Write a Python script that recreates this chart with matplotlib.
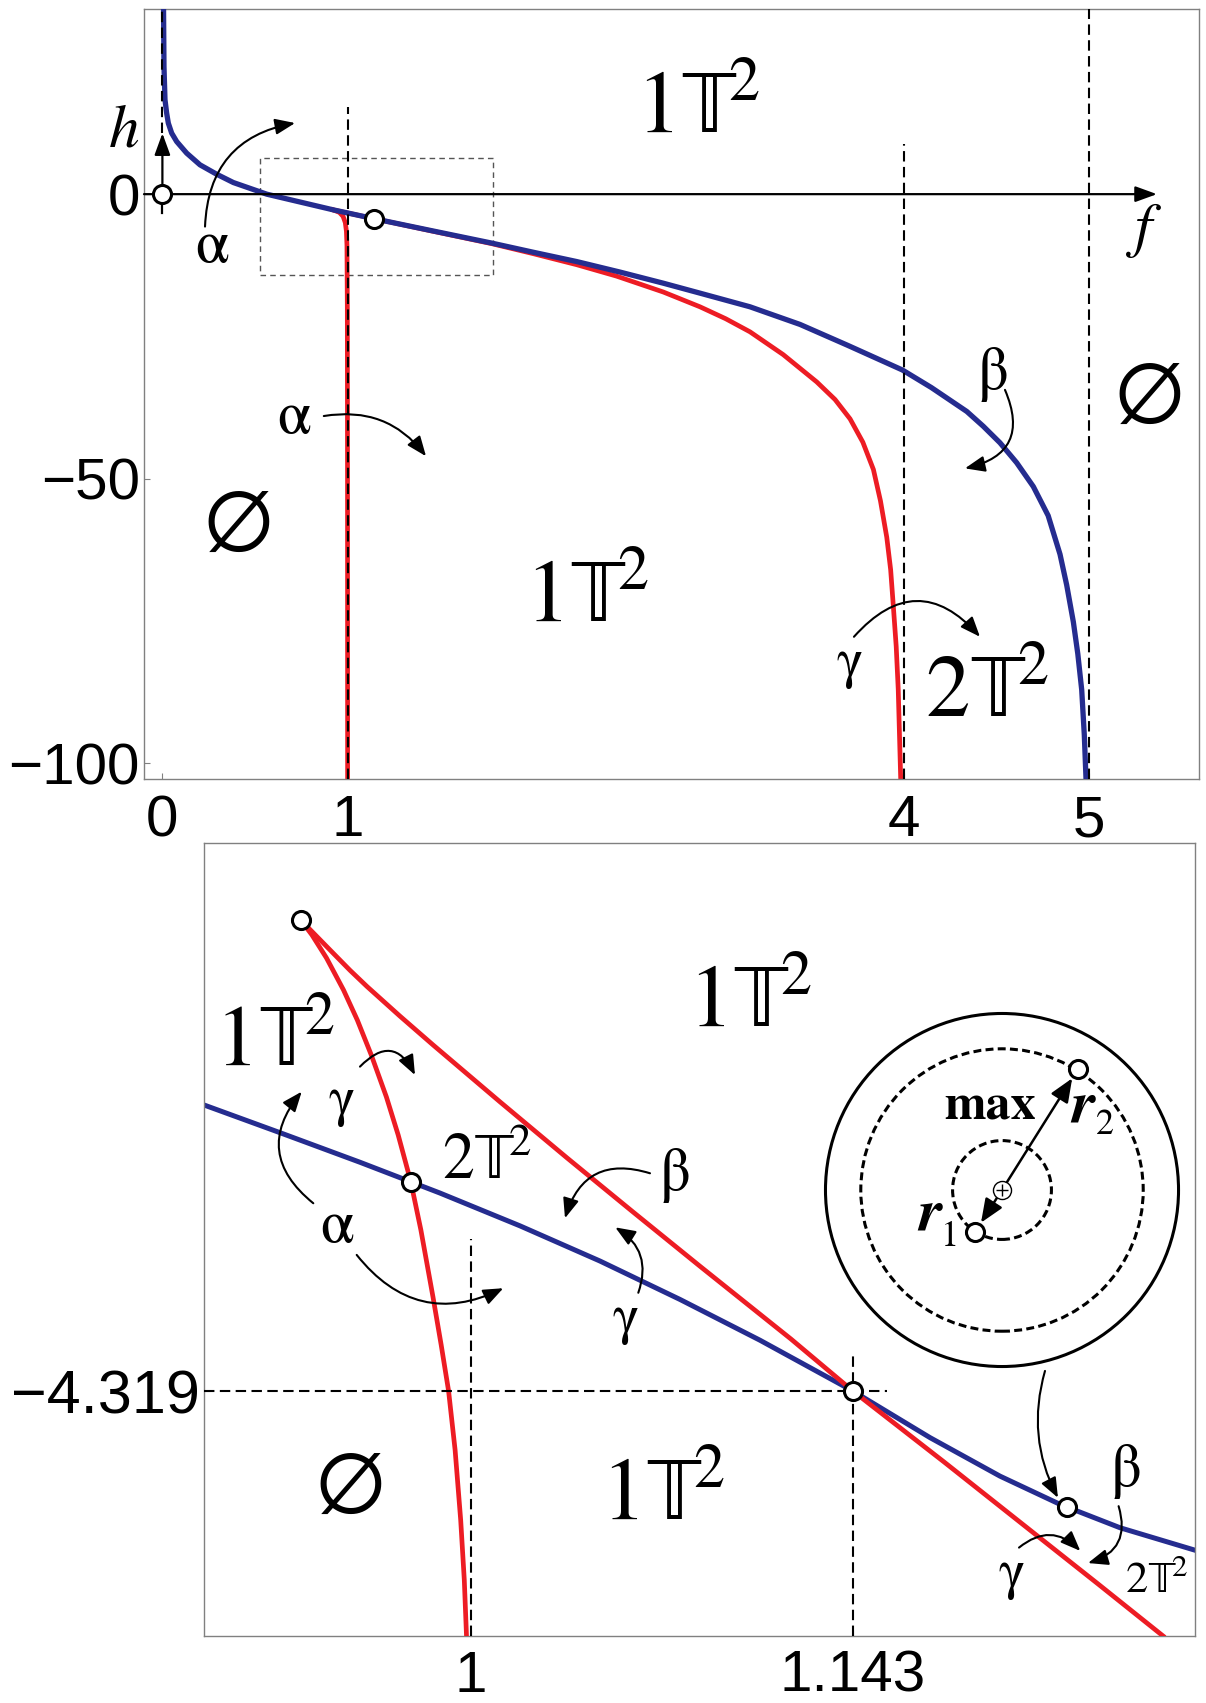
"""Bifurcation diagram h(f): overview (top) and enlarged view near f = 1.143 (bottom)."""

import matplotlib

matplotlib.use("Agg")

import matplotlib.pyplot as plt
from matplotlib.patches import Circle, Rectangle

plt.rcParams["mathtext.fontset"] = "stix"

SERIF = "STIXGeneral"
SANS = ["Liberation Sans", "DejaVu Sans"]
BLUE = "#252c8f"
RED = "#ed1c24"
FRAME = "#808080"
DASH = (0, (5, 2.6))

# ---------------------------------------------------------------------------
# Overview panel data (f, h)
# ---------------------------------------------------------------------------
beta_f = [0.006, 0.0086, 0.014, 0.023, 0.032, 0.050, 0.077, 0.131, 0.203, 0.293,
          0.383, 0.563, 0.922, 1.143, 1.45, 1.777, 2.0, 2.236, 2.47, 2.703,
          2.901, 3.171, 3.441, 3.70, 3.993, 4.15, 4.341, 4.43, 4.520, 4.61,
          4.700, 4.78, 4.844, 4.88, 4.916, 4.94, 4.961, 4.975, 4.984]
beta_h = [33.3, 22.4, 16.6, 14.24, 12.48, 10.73, 9.25, 7.21, 5.15, 3.5,
          2.04, 0.0, -2.76, -4.319, -6.4, -8.6, -10.2, -11.85, -13.7, -15.65,
          -17.4, -19.8, -22.9, -26.6, -30.9, -34.0, -38.2, -40.8, -43.7, -47.2,
          -51.4, -56.5, -63.3, -68.7, -75.2, -80.8, -87.1, -95.0, -102.5]

# red branch running down along f = 1
red_left_f = [0.921, 0.955, 0.975, 0.987, 0.993, 0.996, 0.998, 0.999, 0.9995]
red_left_h = [-2.76, -3.2, -3.9, -5.0, -6.5, -9.0, -20.0, -50.0, -103.0]

# red branch running down along f = 4
red_right_f = [0.921, 1.143, 1.45, 1.777, 2.0, 2.236, 2.45, 2.703, 2.901, 3.04,
               3.171, 3.35, 3.531, 3.63, 3.711, 3.78, 3.837, 3.875, 3.909, 3.93,
               3.944, 3.96, 3.971, 3.984]
red_right_h = [-2.76, -4.319, -6.45, -8.7, -10.45, -12.4, -14.4, -17.2, -19.8, -21.9,
               -24.2, -28.2, -33.0, -36.1, -39.5, -43.6, -48.4, -53.9, -60.3, -66.0,
               -72.2, -79.5, -87.1, -102.5]

f_ticks = [0, 1, 4, 5]
h_ticks = [0, -50, -100]
h_tick_labels = ["0", "\u221250", "\u2212100"]

f_star = 1.143
h_star = -4.319

# ---------------------------------------------------------------------------
# Enlarged panel data
# ---------------------------------------------------------------------------
zoom_beta_f = [0.90004, 0.92849, 0.95844, 0.98839, 1.01835, 1.04830, 1.07825,
               1.10820, 1.143, 1.17185, 1.19805, 1.22052, 1.24298, 1.27106]
zoom_beta_h = [-3.0562, -3.1785, -3.3091, -3.4450, -3.5898, -3.7451, -3.9146,
               -4.0946, -4.319, -4.5244, -4.6944, -4.8188, -4.9221, -5.0213]

zoom_red_a_f = [0.93624, 0.94047, 0.94590, 0.95227, 0.95743, 0.96267, 0.96833,
                0.97274, 0.97746, 0.98124, 0.98577, 0.98884, 0.99161, 0.99405,
                0.99614, 0.99749, 0.99832]
zoom_red_a_h = [-2.2398, -2.3060, -2.4075, -2.5487, -2.6811, -2.8356, -3.0209,
                -3.1886, -3.3947, -3.6079, -3.9035, -4.1153, -4.3184, -4.5787,
                -4.8876, -5.1524, -5.3996]

zoom_red_b_f = [0.93624, 0.94833, 0.95470, 0.96106, 0.97342, 0.98577, 1.01086,
                1.03594, 1.06065, 1.08574, 1.11980, 1.143, 1.17709, 1.20591,
                1.23474, 1.25908]
zoom_red_b_h = [-2.2398, -2.3854, -2.4618, -2.5333, -2.6643, -2.7910, -3.0425,
                -3.2897, -3.5284, -3.7681, -4.0893, -4.319, -4.6317, -4.9009,
                -5.1701, -5.3996]

zoom_marks_f = [0.93624, 0.9775, f_star, 1.22314]
zoom_marks_h = [-2.2398, -3.3955, h_star, -4.8307]

zoom_f_ticks = [1, f_star]
zoom_h_ticks = [h_star]


def style_frame(ax):
    for sp in ax.spines.values():
        sp.set_color(FRAME)
        sp.set_linewidth(1.0)
    ax.tick_params(direction="in", length=4, width=0.8, color=FRAME)


def label(ax, x, y, s, size, **kw):
    ax.text(x, y, s, fontsize=size, family=SERIF, ha="center", va="center", **kw)


def torus(n):
    return rf"$\mathrm{{{n}\mathbb{{T}}^2}}$"


def curved_arrow(ax, start, end, rad, lw=1.5, scale=22):
    ax.annotate("", xy=end, xytext=start,
                arrowprops=dict(arrowstyle="-|>,head_length=0.55,head_width=0.22",
                                connectionstyle=f"arc3,rad={rad}", color="black",
                                lw=lw, mutation_scale=scale, shrinkA=0, shrinkB=0),
                annotation_clip=False)


def open_marks(ax, fs, hs):
    ax.plot(fs, hs, "o", ms=13, mfc="white", mec="black", mew=2.2, zorder=8,
            clip_on=False)


fig = plt.figure(figsize=(12.06, 17.03), dpi=100)

# ---------------------------------------------------------------------------
# Overview
# ---------------------------------------------------------------------------
ax = fig.add_axes([0.1194, 0.54257, 0.87479, 0.45233])
ax.set_xlim(-0.0993, 5.594)
ax.set_ylim(-102.8, 32.6)
style_frame(ax)

ax.plot(red_left_f, red_left_h, color=RED, lw=3.4, zorder=2)
ax.plot(red_right_f, red_right_h, color=RED, lw=3.4, zorder=2)
ax.plot(beta_f, beta_h, color=BLUE, lw=3.8, zorder=3)

dash_kw = dict(colors="black", linestyles=[DASH], linewidths=1.5, zorder=4)
ax.vlines(0, 10.7, 32.6, **dash_kw)
ax.vlines(1, -102.8, 15.4, **dash_kw)
ax.vlines(4, -102.8, 8.76, **dash_kw)
ax.vlines(5, -102.8, 32.6, **dash_kw)

ax.add_patch(Rectangle((0.529, -14.19), 1.254, 20.63, fill=False,
                       edgecolor="#555555", lw=1.0, ls=(0, (4, 3)), zorder=1))

# coordinate arrows
axis_arrow = dict(arrowstyle="-|>,head_length=0.55,head_width=0.2", color="black",
                  lw=1.6, mutation_scale=24, shrinkA=0, shrinkB=0)
ax.annotate("", xy=(5.367, 0), xytext=(-0.0993, 0), arrowprops=axis_arrow,
            annotation_clip=False, zorder=5)
ax.annotate("", xy=(0, 10.7), xytext=(0, 0), arrowprops=axis_arrow, zorder=5)
ax.plot([0, 0], [0, -3.3], color="black", lw=1.6, zorder=5)
open_marks(ax, [0, f_star], [0, h_star])

ax.set_xticks(f_ticks, labels=[str(v) for v in f_ticks], fontsize=42, family=SANS)
ax.set_yticks(h_ticks, labels=h_tick_labels, fontsize=42, family=SANS)
ax.tick_params(axis="x", pad=11)
ax.tick_params(axis="y", pad=3)

ax.text(-0.207, 10.9, "h", fontsize=44, family=SERIF, style="italic",
        ha="center", va="center")
ax.text(5.292, -6.3, "f", fontsize=44, family=SERIF, style="italic",
        ha="center", va="center")

label(ax, 2.890, 14.6, torus(1), 64)
label(ax, 2.291, -71.3, torus(1), 64)
label(ax, 4.448, -88.1, torus(2), 64)
label(ax, 0.408, -58.0, "\u2205", 66)
label(ax, 5.324, -35.5, "\u2205", 66)

label(ax, 0.266, -9.5, "\u03b1", 44)
curved_arrow(ax, (0.230, -5.7), (0.716, 12.5), -0.4)
label(ax, 0.707, -39.4, "\u03b1", 44)
curved_arrow(ax, (0.871, -39.0), (1.4226, -46.07), -0.3)
label(ax, 4.480, -31.7, "\u03b2", 44)
curved_arrow(ax, (4.547, -34.4), (4.331, -48.2), -0.6)
label(ax, 3.711, -82.6, "\u03b3", 40)
curved_arrow(ax, (3.732, -77.8), (4.412, -77.8), -0.56)

# ---------------------------------------------------------------------------
# Enlarged view near the tangency point
# ---------------------------------------------------------------------------
bx = fig.add_axes([0.16915, 0.03934, 0.82173, 0.46565])
bx.set_xlim(0.90004, 1.27106)
bx.set_ylim(-5.4, -1.9)
style_frame(bx)

bx.plot(zoom_beta_f, zoom_beta_h, color=BLUE, lw=3.6, zorder=2)
bx.plot(zoom_red_a_f, zoom_red_a_h, color=RED, lw=3.4, zorder=3)
bx.plot(zoom_red_b_f, zoom_red_b_h, color=RED, lw=3.4, zorder=3)

bx.vlines(1, -5.4, -3.648, **dash_kw)
bx.vlines(f_star, -5.4, -4.144, **dash_kw)
bx.hlines(h_star, 0.90004, 1.1557, **dash_kw)
open_marks(bx, zoom_marks_f, zoom_marks_h)

bx.set_xticks(zoom_f_ticks, labels=[f"{v:g}" for v in zoom_f_ticks],
              fontsize=42, family=SANS)
bx.set_yticks(zoom_h_ticks, labels=[f"\u2212{abs(v):.3f}" for v in zoom_h_ticks],
              fontsize=44, family=SANS)
bx.tick_params(axis="x", pad=10)
bx.tick_params(axis="y", pad=3)

label(bx, 1.1045, -2.615, torus(1), 64)
label(bx, 0.9265, -2.790, torus(1), 62)
label(bx, 1.07188, -4.7932, torus(1), 64)
label(bx, 1.00588, -3.3166, torus(2), 46)
label(bx, 1.25683, -5.1569, torus(2), 32)
label(bx, 0.9547, -4.7376, "\u2205", 66)

label(bx, 0.9517, -3.040, "\u03b3", 40)
curved_arrow(bx, (0.95844, -2.887), (0.97903, -2.924), -0.7)
label(bx, 0.9497, -3.599, "\u03b1", 44)
curved_arrow(bx, (0.94096, -3.490), (0.93662, -2.9975), -0.5)
curved_arrow(bx, (0.95721, -3.718), (1.01209, -3.865), 0.4)
label(bx, 1.07638, -3.3695, "\u03b2", 44)
curved_arrow(bx, (1.06702, -3.3577), (1.03519, -3.5562), 0.5)
label(bx, 1.05803, -4.005, "\u03b3", 40)
curved_arrow(bx, (1.06264, -3.885), (1.05402, -3.5964), 0.4)
label(bx, 1.24523, -4.6758, "\u03b2", 44)
curved_arrow(bx, (1.24246, -4.827), (1.2310, -5.078), -0.5)
label(bx, 1.20232, -5.1303, "\u03b3", 40)
curved_arrow(bx, (1.20517, -5.0098), (1.22811, -5.0244), -0.45)
curved_arrow(bx, (1.2149, -4.2301), (1.21975, -4.7900), 0.2)

# orbit sketch: outer boundary, radii r1 < r2
ix = fig.add_axes([0.67745, 0.19260, 0.30680, 0.21726])
ix.set_xlim(-1.048, 1.048)
ix.set_ylim(-1.048, 1.048)
ix.axis("off")
ix.add_patch(Circle((0, 0), 1.0, fill=False, lw=2.2, color="black"))
ix.add_patch(Circle((0, 0), 0.80, fill=False, lw=2.2, color="black", ls=(0, (2.6, 1.4))))
ix.add_patch(Circle((0, 0), 0.28, fill=False, lw=2.2, color="black", ls=(0, (2.6, 1.4))))
inset_arrow = dict(arrowstyle="-|>,head_length=0.6,head_width=0.25", color="black",
                   lw=1.8, mutation_scale=24, shrinkA=6, shrinkB=8)
ix.annotate("", xy=(0.431, 0.686), xytext=(0, 0), arrowprops=inset_arrow)
ix.annotate("", xy=(-0.153, -0.238), xytext=(0, 0), arrowprops=inset_arrow)
ix.plot(0, 0, "o", ms=13, mfc="white", mec="black", mew=1.0, zorder=5)
ix.plot(0, 0, "+", ms=8, mec="black", mew=1.0, zorder=6)
ix.plot([0.431, -0.153], [0.686, -0.238], "o", ms=13, mfc="white", mec="black",
        mew=2.2, zorder=6)
ix.text(-0.068, 0.467, "max", fontsize=36, family=SERIF, weight="bold",
        ha="center", va="center")
ix.text(0.459, 0.467, "r", fontsize=44, family=SERIF, weight="bold", style="italic",
        ha="center", va="center")
ix.text(0.584, 0.368, "2", fontsize=26, family=SERIF, ha="center", va="center")
ix.text(-0.405, -0.147, "r", fontsize=44, family=SERIF, weight="bold", style="italic",
        ha="center", va="center")
ix.text(-0.295, -0.266, "1", fontsize=26, family=SERIF, ha="center", va="center")

fig.savefig("out.png", dpi=100)
plt.close(fig)
